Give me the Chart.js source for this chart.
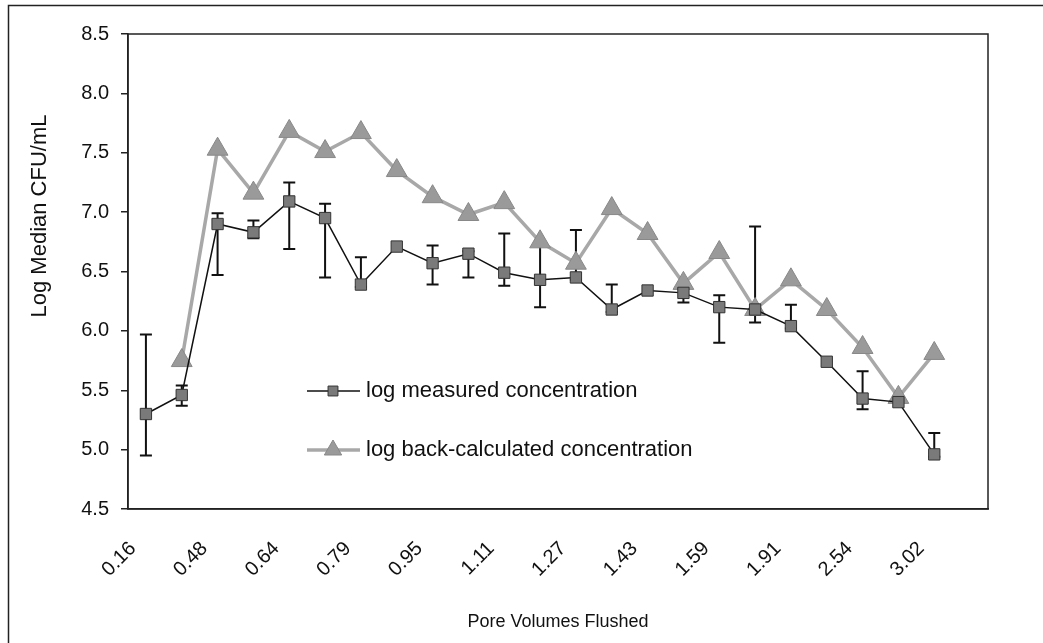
<!DOCTYPE html>
<html>
<head>
<meta charset="utf-8">
<script src="https://cdn.jsdelivr.net/npm/chart.js@4/dist/chart.umd.min.js"></script>
<style>
  html, body { margin: 0; padding: 0; background: #fff; }
  #wrap { width: 1043px; height: 643px; }
</style>
</head>
<body>
<div id="wrap"><canvas id="chart" width="1043" height="643"></canvas></div>
<script>
// pore volumes flushed (only every other category is labelled in the original)
const categories = ['0.16', '', '0.48', '', '0.64', '', '0.79', '', '0.95', '', '1.11', '',
  '1.27', '', '1.43', '', '1.59', '', '1.91', '', '2.54', '', '3.02', ''];

const measured = [5.30, 5.46, 6.90, 6.83, 7.09, 6.95, 6.39, 6.71, 6.57, 6.65, 6.49, 6.43,
  6.45, 6.18, 6.34, 6.32, 6.20, 6.18, 6.04, 5.74, 5.43, 5.40, 4.96, null];
const measuredHigh = [5.97, 5.54, 6.99, 6.93, 7.25, 7.07, 6.62, null, 6.72, 6.67, 6.82, 6.75,
  6.85, 6.39, null, 6.36, 6.30, 6.88, 6.22, null, 5.66, null, 5.14, null];
const measuredLow = [4.95, 5.37, 6.47, 6.78, 6.69, 6.45, 6.37, null, 6.39, 6.45, 6.38, 6.20,
  6.43, 6.16, null, 6.24, 5.90, 6.07, 6.02, null, 5.34, null, 4.94, null];

const backCalc = [null, 5.75, 7.53, 7.16, 7.68, 7.51, 7.67, 7.35, 7.13, 6.98, 7.08, 6.75,
  6.57, 7.03, 6.82, 6.40, 6.66, 6.18, 6.43, 6.18, 5.86, 5.44, 5.81, null];

const yTicks = [4.5, 5.0, 5.5, 6.0, 6.5, 7.0, 7.5, 8.0, 8.5];

const FONT = "'Liberation Sans', Arial, sans-serif";

const errorBars = {
  id: 'errorBars',
  beforeDatasetsDraw(chart) {
    const ctx = chart.ctx;
    const x = chart.scales.x, y = chart.scales.y;
    ctx.save();
    ctx.strokeStyle = '#111';
    ctx.lineWidth = 2;
    for (let i = 0; i < measured.length; i++) {
      if (measuredHigh[i] == null) continue;
      const px = x.getPixelForValue(i);
      const top = y.getPixelForValue(measuredHigh[i]);
      const bot = y.getPixelForValue(measuredLow[i]);
      ctx.beginPath();
      ctx.moveTo(px, top); ctx.lineTo(px, bot);
      ctx.moveTo(px - 6, top); ctx.lineTo(px + 6, top);
      ctx.moveTo(px - 6, bot); ctx.lineTo(px + 6, bot);
      ctx.stroke();
    }
    ctx.restore();
  }
};

const decorations = {
  id: 'decorations',
  beforeDraw(chart) {
    const ctx = chart.ctx;
    ctx.save();
    ctx.fillStyle = '#fff';
    ctx.fillRect(0, 0, chart.width, chart.height);
    ctx.strokeStyle = '#222';
    ctx.lineWidth = 1.5;
    ctx.beginPath();
    ctx.moveTo(8.5, 643); ctx.lineTo(8.5, 5.5); ctx.lineTo(1043, 5.5);
    ctx.stroke();
    ctx.restore();
  },
  afterDraw(chart) {
    const ctx = chart.ctx;
    const a = chart.chartArea;
    ctx.save();
    ctx.strokeStyle = '#222';
    ctx.lineWidth = 1.5;
    ctx.strokeRect(a.left, a.top, a.right - a.left, a.bottom - a.top);

    // y axis title
    ctx.fillStyle = '#111';
    ctx.font = '22px ' + FONT;
    ctx.textAlign = 'center';
    ctx.textBaseline = 'middle';
    ctx.translate(40, 216);
    ctx.rotate(-Math.PI / 2);
    ctx.fillText('Log Median CFU/mL', 0, 0);
    ctx.restore();

    // legend inside the plot
    const items = [
      { y: 391, ds: chart.data.datasets[0], r: 7 },
      { y: 450, ds: chart.data.datasets[1], r: 10 }
    ];
    ctx.save();
    items.forEach(it => {
      ctx.strokeStyle = it.ds.borderColor;
      ctx.lineWidth = it.ds.borderWidth;
      ctx.beginPath();
      ctx.moveTo(307, it.y); ctx.lineTo(360, it.y);
      ctx.stroke();
      ctx.fillStyle = it.ds.backgroundColor;
      ctx.strokeStyle = it.ds.pointBorderColor;
      ctx.lineWidth = 1;
      Chart.helpers.drawPoint(ctx, {
        pointStyle: it.ds.pointStyle,
        radius: it.r,
        borderWidth: 1
      }, 333, it.y);
      ctx.fillStyle = '#111';
      ctx.font = '22px ' + FONT;
      ctx.textAlign = 'left';
      ctx.textBaseline = 'middle';
      ctx.fillText(it.ds.label, 366, it.y);
    });
    ctx.restore();
  }
};

new Chart(document.getElementById('chart'), {
  type: 'line',
  data: {
    labels: categories,
    datasets: [{
      label: 'log measured concentration',
      data: measured,
      borderColor: '#111',
      borderWidth: 1.5,
      backgroundColor: '#7a7a7a',
      pointStyle: 'rect',
      pointRadius: 8,
      pointBorderColor: '#333',
      pointBorderWidth: 1,
      tension: 0,
      order: 1
    },
    {
      label: 'log back-calculated concentration',
      data: backCalc,
      borderColor: '#a8a8a8',
      borderWidth: 3.5,
      backgroundColor: '#9a9a9a',
      pointStyle: 'triangle',
      pointRadius: 12,
      pointBorderColor: '#888',
      pointBorderWidth: 1,
      tension: 0,
      order: 2
    }]
  },
  options: {
    responsive: false,
    animation: false,
    layout: {
      padding: { top: 34, right: 55, left: 0, bottom: 0 }
    },
    plugins: {
      legend: { display: false },
      tooltip: { enabled: false }
    },
    scales: {
      x: {
        offset: true,
        grid: { display: false, drawTicks: false },
        border: { display: true, color: '#222', width: 1.5 },
        ticks: {
          autoSkip: false,
          minRotation: 45,
          maxRotation: 45,
          padding: 28,
          labelOffset: -13,
          color: '#111',
          font: { family: FONT, size: 20 }
        },
        title: {
          display: true,
          text: 'Pore Volumes Flushed',
          color: '#111',
          font: { family: FONT, size: 18 },
          padding: { top: 0, bottom: 10 }
        },
        afterFit(scale) { scale.height = 134; }
      },
      y: {
        min: 4.5,
        max: 8.5,
        afterBuildTicks(scale) { scale.ticks = yTicks.map(v => ({ value: v })); },
        grid: { drawOnChartArea: false, drawTicks: true, tickLength: 7, color: '#222', lineWidth: 1.5 },
        border: { display: true, color: '#222', width: 1.5 },
        ticks: {
          padding: 12,
          color: '#111',
          font: { family: FONT, size: 20 },
          callback: v => Number(v).toFixed(1)
        },
        afterFit(scale) { scale.width = 128; }
      }
    }
  },
  plugins: [errorBars, decorations]
});
</script>
</body>
</html>
